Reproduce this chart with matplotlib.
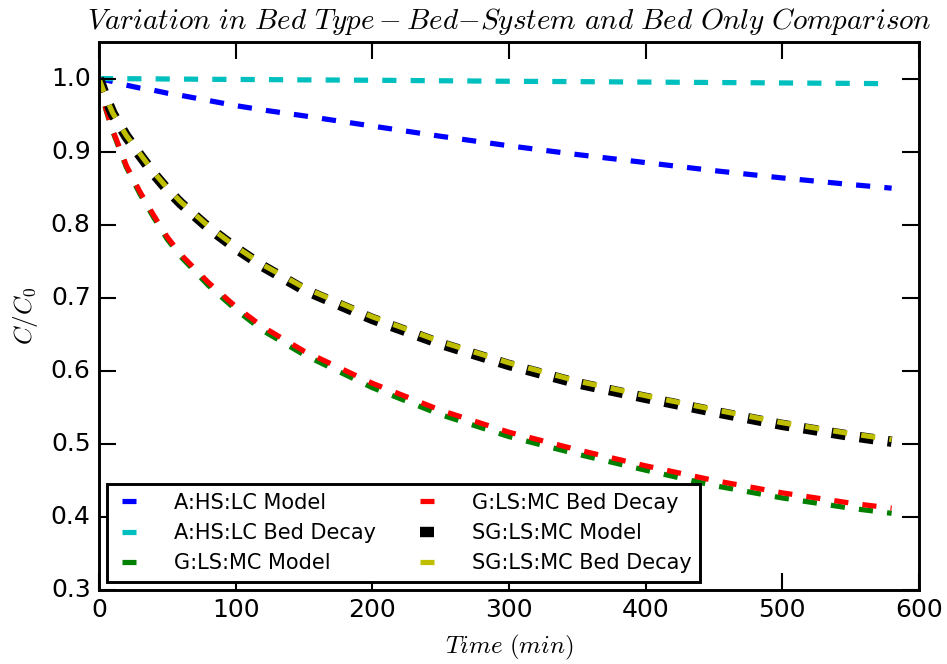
import matplotlib
matplotlib.use('Agg')
import matplotlib.pyplot as plt
import numpy as np

plt.style.use('classic')
plt.rcParams['lines.scale_dashes'] = False
plt.rcParams['mathtext.fontset'] = 'cm'

# time samples (min)
t = [0, 5, 10, 20, 30, 40, 50, 60, 80, 100, 120, 150, 200, 250, 300,
     350, 400, 450, 500, 550, 580]

# A:HS:LC
a_model = [1.000, 0.998, 0.996, 0.991, 0.987, 0.984, 0.980, 0.977, 0.970,
           0.963, 0.957, 0.949, 0.935, 0.921, 0.908, 0.896, 0.885, 0.874,
           0.864, 0.855, 0.850]
a_bed = [1.000, 1.000, 0.9999, 0.9998, 0.9997, 0.9996, 0.9994, 0.9993,
         0.9990, 0.9988, 0.9986, 0.9982, 0.9977, 0.9970, 0.9963, 0.9958,
         0.9952, 0.9946, 0.9940, 0.9934, 0.9930]

# G:LS:MC
g_model = [1.000, 0.958, 0.928, 0.879, 0.842, 0.810, 0.780, 0.756, 0.717,
           0.684, 0.655, 0.622, 0.577, 0.540, 0.510, 0.486, 0.464, 0.443,
           0.426, 0.412, 0.405]
g_bed = [1.000, 0.959, 0.930, 0.881, 0.845, 0.813, 0.783, 0.759, 0.721,
         0.688, 0.660, 0.627, 0.583, 0.546, 0.516, 0.492, 0.470, 0.450,
         0.433, 0.419, 0.412]

# SG:LS:MC
sg_model = [1.000, 0.974, 0.952, 0.921, 0.895, 0.870, 0.848, 0.829, 0.796,
            0.768, 0.743, 0.711, 0.671, 0.637, 0.608, 0.583, 0.563, 0.544,
            0.526, 0.511, 0.503]
sg_bed = [1.000, 0.975, 0.953, 0.922, 0.897, 0.872, 0.850, 0.831, 0.798,
          0.770, 0.745, 0.714, 0.674, 0.640, 0.611, 0.586, 0.566, 0.547,
          0.529, 0.514, 0.506]

series = [
    (a_model, 'b', 2.5, 'A:HS:LC Model'),
    (a_bed, 'c', 2.5, 'A:HS:LC Bed Decay'),
    (g_model, 'g', 2.5, 'G:LS:MC Model'),
    (g_bed, 'r', 2.5, 'G:LS:MC Bed Decay'),
    (sg_model, 'k', 5.0, 'SG:LS:MC Model'),
    (sg_bed, 'y', 2.5, 'SG:LS:MC Bed Decay'),
]

fig = plt.figure(figsize=(947 / 150, 664 / 150), dpi=150, facecolor='white')
ax = fig.add_axes([0.1045, 0.1114, 0.8659, 0.8253])

for vals, col, lw, lab in series:
    ax.plot(t, vals, color=col, lw=lw, linestyle='--', dashes=(6.8, 6.8),
            dash_capstyle='butt', label=lab)

ax.set_xlim(0, 600)
ax.set_ylim(0.3, 1.05)
ax.set_yticks(np.arange(0.3, 1.01, 0.1))
ax.tick_params(labelsize=12, length=8, width=1)
for s in ax.spines.values():
    s.set_linewidth(1.4)

ax.set_title(r'$Variation\ in\ Bed\ Type-Bed{-}System\ and\ Bed\ Only\ Comparison$',
             fontsize=14.0, y=1.004)
ax.set_xlabel(r'$Time\ (min)$', fontsize=12)
ax.set_ylabel(r'$C/C_0$', fontsize=12)

leg = ax.legend(loc='lower left', ncol=2, fontsize=10, handlelength=1.3,
                handletextpad=1.5, columnspacing=1.8, borderaxespad=0.4)
leg.get_frame().set_linewidth(1.4)

fig.savefig('out.png', dpi=150, facecolor='white')
